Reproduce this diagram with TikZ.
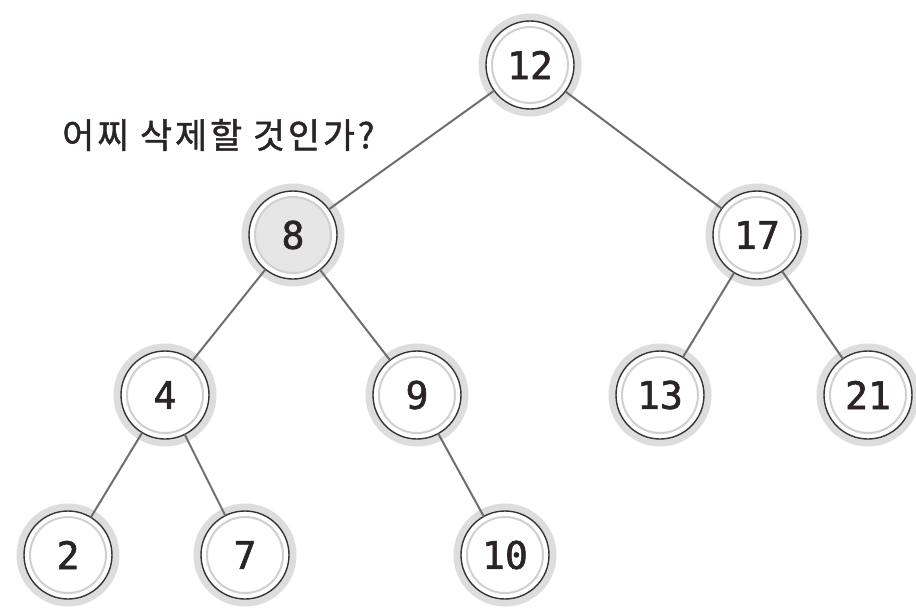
\documentclass[tikz,border=0pt]{standalone}
\usepackage{fontspec}
\newfontfamily\monofnt[FakeBold=1.6]{DejaVu Sans Mono}
\newfontfamily\krfont[LetterSpace=8,FakeBold=1.3]{Noto Sans CJK KR}
\definecolor{halo}{HTML}{DDDDDD}
\definecolor{ringdark}{HTML}{3A3535}
\definecolor{ringlight}{HTML}{D0D0D0}
\definecolor{txt}{HTML}{2B2424}
\definecolor{edgegray}{HTML}{6E6E6E}
\definecolor{selfill}{HTML}{E6E6E6}
\tikzset{
  tn/.style={circle, minimum size=88pt, inner sep=0pt, outer sep=0pt,
    draw=ringdark, line width=1.4pt, fill=white,
    preaction={draw=halo, line width=15pt},
    path picture={\draw[ringlight, line width=2pt] (path picture bounding box.center) circle (38pt);},
    text=txt, font=\monofnt\fontsize{38}{40}\selectfont},
  seltn/.style={tn,
    path picture={\fill[selfill] (path picture bounding box.center) circle (38pt);
      \draw[ringlight, line width=2pt] (path picture bounding box.center) circle (38pt);}},
  tedge/.style={draw=edgegray, line width=2pt}
}
\begin{document}
\begin{tikzpicture}[x=1pt,y=-1pt]
\useasboundingbox (0,0) rectangle (916,610);
\node[tn] (n12) at (530,65) {12};
\node[seltn] (n8) at (293,235) {8};
\node[tn] (n17) at (757,235) {17};
\node[tn] (n4) at (165,395) {4};
\node[tn] (n9) at (417,395) {9};
\node[tn] (n13) at (660,395) {13};
\node[tn] (n21) at (868,395) {21};
\node[tn] (n2) at (68,555) {2};
\node[tn] (n7) at (245,555) {7};
\node[tn] (n10) at (505,555) {10};
\draw[tedge] (n12) -- (n8);
\draw[tedge] (n12) -- (n17);
\draw[tedge] (n8) -- (n4);
\draw[tedge] (n8) -- (n9);
\draw[tedge] (n17) -- (n13);
\draw[tedge] (n17) -- (n21);
\draw[tedge] (n4) -- (n2);
\draw[tedge] (n4) -- (n7);
\draw[tedge] (n9) -- (n10);
\node[anchor=west, inner sep=0pt, text=txt, font=\krfont\fontsize{35}{38}\selectfont] (q) at (62,135) {어찌 삭제할 것인가?};
\end{tikzpicture}
\end{document}
